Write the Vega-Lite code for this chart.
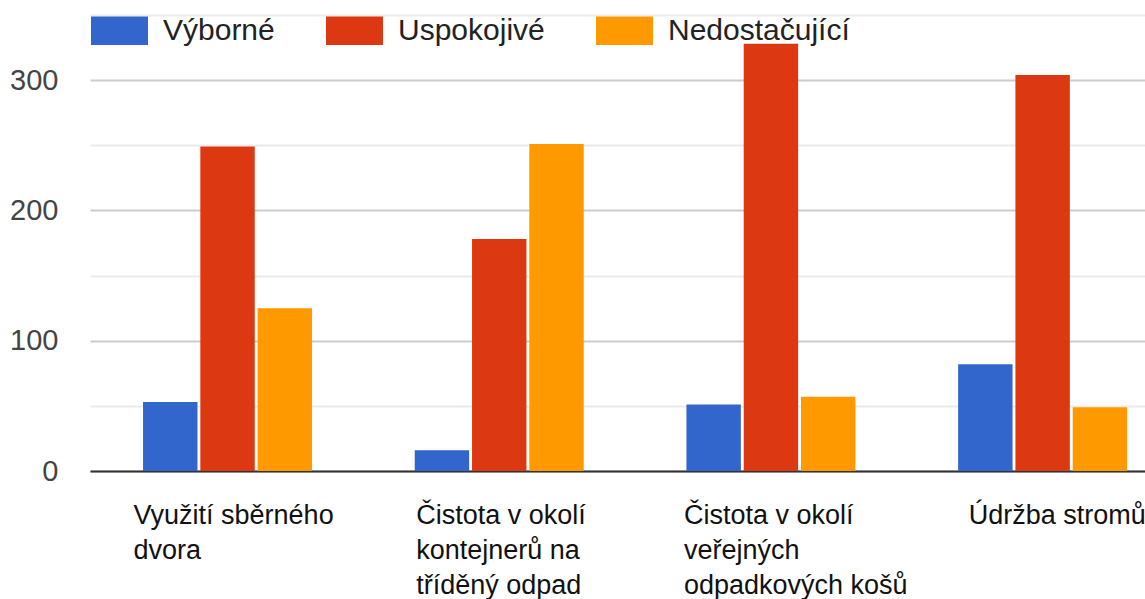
{
  "$schema": "https://vega.github.io/schema/vega-lite/v6.json",
  "autosize": "none",
  "width": 1055,
  "height": 456,
  "padding": {"left": 90, "top": 15, "right": 0, "bottom": 128},
  "background": "white",
  "config": {"view": {"stroke": null}},
  "data": {
    "values": [
      {"category": "Využití sběrného dvora", "rating": "Výborné", "count": 53},
      {"category": "Využití sběrného dvora", "rating": "Uspokojivé", "count": 249},
      {"category": "Využití sběrného dvora", "rating": "Nedostačující", "count": 125},
      {"category": "Čistota v okolí kontejnerů na tříděný odpad", "rating": "Výborné", "count": 16},
      {"category": "Čistota v okolí kontejnerů na tříděný odpad", "rating": "Uspokojivé", "count": 178},
      {"category": "Čistota v okolí kontejnerů na tříděný odpad", "rating": "Nedostačující", "count": 251},
      {"category": "Čistota v okolí veřejných odpadkových košů", "rating": "Výborné", "count": 51},
      {"category": "Čistota v okolí veřejných odpadkových košů", "rating": "Uspokojivé", "count": 328},
      {"category": "Čistota v okolí veřejných odpadkových košů", "rating": "Nedostačující", "count": 57},
      {"category": "Údržba stromů", "rating": "Výborné", "count": 82},
      {"category": "Údržba stromů", "rating": "Uspokojivé", "count": 304},
      {"category": "Údržba stromů", "rating": "Nedostačující", "count": 49}
    ]
  },
  "mark": {"type": "bar"},
  "encoding": {
    "x": {
      "field": "category",
      "type": "nominal",
      "sort": null,
      "scale": {"paddingInner": 0.378, "paddingOuter": 0.1305, "align": 0.748},
      "axis": {
        "title": null,
        "ticks": false,
        "grid": false,
        "domain": true,
        "domainColor": "#333333",
        "domainWidth": 2,
        "labelAngle": 0,
        "labelAlign": "left",
        "labelBaseline": "top",
        "labelPadding": 31,
        "labelFont": "Liberation Sans",
        "labelFontSize": 27,
        "labelLineHeight": 35,
        "labelColor": "#111111",
        "labelLimit": 0,
        "labelOverlap": false,
        "labelFlush": false,
        "labelOffset": {
          "condition": [
            {"test": "datum.value == 'Využití sběrného dvora'", "value": -94},
            {"test": "datum.value == 'Čistota v okolí kontejnerů na tříděný odpad'", "value": -83},
            {"test": "datum.value == 'Čistota v okolí veřejných odpadkových košů'", "value": -87}
          ],
          "value": -74
        },
        "labelExpr": "datum.value == 'Využití sběrného dvora' ? ['Využití sběrného', 'dvora'] : datum.value == 'Čistota v okolí kontejnerů na tříděný odpad' ? ['Čistota v okolí', 'kontejnerů na', 'tříděný odpad'] : datum.value == 'Čistota v okolí veřejných odpadkových košů' ? ['Čistota v okolí', 'veřejných', 'odpadkových košů'] : datum.value"
      }
    },
    "xOffset": {
      "field": "rating",
      "type": "nominal",
      "sort": ["Výborné", "Uspokojivé", "Nedostačující"],
      "scale": {"paddingInner": 0.05, "paddingOuter": 0}
    },
    "y": {
      "field": "count",
      "type": "quantitative",
      "scale": {"domain": [0, 350], "nice": false},
      "axis": {
        "title": null,
        "values": [0, 50, 100, 150, 200, 250, 300, 350],
        "labelExpr": "datum.value % 100 === 0 ? datum.label : ''",
        "domain": false,
        "ticks": false,
        "labelPadding": 32,
        "labelFont": "Liberation Sans",
        "labelFontSize": 29,
        "labelColor": "#444444",
        "gridColor": {"condition": {"test": "datum.value % 100 === 0", "value": "#cccccc"}, "value": "#ebebeb"},
        "gridWidth": 2
      }
    },
    "color": {
      "field": "rating",
      "type": "nominal",
      "sort": ["Výborné", "Uspokojivé", "Nedostačující"],
      "scale": {"domain": ["Výborné", "Uspokojivé", "Nedostačující"], "range": ["#3366cc", "#dc3912", "#ff9900"]},
      "legend": {
        "title": null,
        "orient": "none",
        "direction": "horizontal",
        "legendX": 1,
        "legendY": -13,
        "padding": 0,
        "symbolType": "M-1,-0.5H1V0.5H-1Z",
        "symbolSize": 3249,
        "symbolStrokeWidth": 0,
        "symbolOpacity": 1,
        "labelFont": "Liberation Sans",
        "labelFontSize": 30,
        "labelColor": "#222222",
        "labelOffset": 15,
        "labelLimit": 400,
        "columnPadding": 51
      }
    }
  }
}
